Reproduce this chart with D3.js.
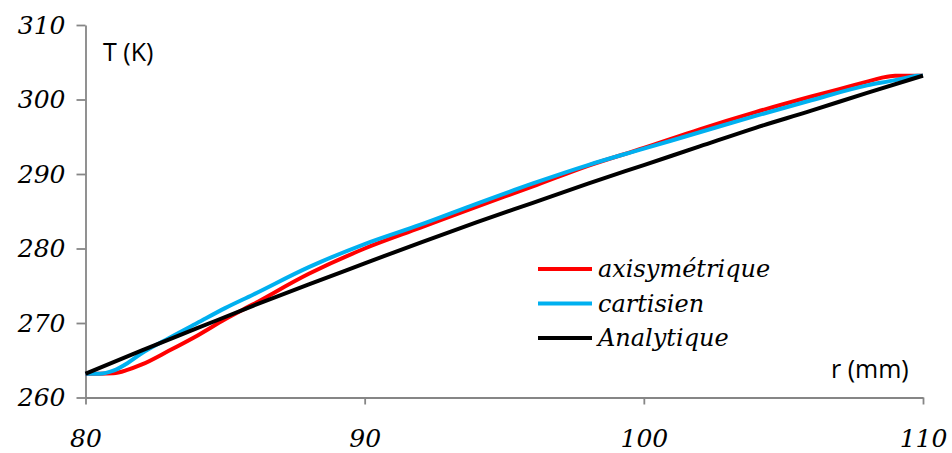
<!DOCTYPE html>
<html>
<head>
<meta charset="utf-8">
<script src="https://cdn.jsdelivr.net/npm/d3@7"></script>
<style>
  html, body { margin: 0; padding: 0; background: #fff; }
  svg { display: block; }
</style>
</head>
<body>
<svg id="chart" width="952" height="453"></svg>
<script>
// ---- data ----
const rAxi = [80, 80.5, 81, 81.5, 82, 83, 84, 85, 86, 88, 90, 92, 94, 96, 98, 100, 102, 104, 106, 107, 108, 108.5, 109, 110];
const tAxi = [263.2, 263.2, 263.25, 263.7, 264.4, 266.3, 268.3, 270.5, 272.5, 276.6, 280.0, 282.8, 285.6, 288.3, 291.1, 293.5, 296.0, 298.3, 300.4, 301.4, 302.4, 302.9, 303.2, 303.2];

const rCart = [80, 80.5, 81, 81.5, 82, 83, 84, 85, 86, 88, 90, 92, 94, 96, 98, 100, 102, 104, 106, 108, 109, 109.5, 109.8, 110];
const tCart = [263.2, 263.2, 263.6, 264.6, 265.9, 268.0, 270.0, 272.0, 273.8, 277.5, 280.6, 283.2, 286.0, 288.7, 291.2, 293.4, 295.6, 297.8, 299.9, 301.9, 302.6, 303.0, 303.2, 303.2];

const rAna = [80, 82, 84, 86, 88, 90, 92, 94, 96, 98, 100, 102, 104, 106, 108, 110];
const tAna = [263.2, 266.3, 269.3, 272.3, 275.2, 278.0, 280.8, 283.5, 286.1, 288.7, 291.2, 293.7, 296.2, 298.5, 300.9, 303.2];

const seriesNames = ["axisymétrique", "cartisien", "Analytique"];
const seriesColors = ["#FF0000", "#00B0F0", "#000000"];

const xTicks = [80, 90, 100, 110];
const yTicks = [260, 270, 280, 290, 300, 310];
const xTitle = "r (mm)";
const yTitle = "T (K)";

// ---- chart ----
const svg = d3.select("#chart");
const x = d3.scaleLinear().domain([80, 110]).range([85.5, 923]);
const y = d3.scaleLinear().domain([260, 310]).range([397.5, 25]);

const axisColor = "#868686";
const tickFont = "'DejaVu Serif', serif";

const yAxis = svg.append("g")
  .attr("transform", `translate(${x(80)},0)`)
  .call(d3.axisLeft(y).tickValues(yTicks).tickSize(9).tickSizeOuter(0).tickPadding(11).tickFormat(d3.format("d")));
const xAxis = svg.append("g")
  .attr("transform", `translate(0,${y(260)})`)
  .call(d3.axisBottom(x).tickValues(xTicks).tickSize(7).tickSizeOuter(0).tickPadding(25).tickFormat(d3.format("d")));

[yAxis, xAxis].forEach(g => {
  g.select(".domain").attr("stroke", axisColor).attr("stroke-width", 1.8);
  g.selectAll(".tick line").attr("stroke", axisColor).attr("stroke-width", 1.8);
  g.selectAll(".tick text")
    .attr("fill", "#000")
    .style("font-family", tickFont)
    .style("font-style", "italic")
    .style("font-size", "25px");
});

// series lines
const line = d3.line().x(d => x(d[0])).y(d => y(d[1])).curve(d3.curveMonotoneX);
const series = [
  d3.zip(rAxi, tAxi),
  d3.zip(rCart, tCart),
  d3.zip(rAna, tAna)
];
series.forEach((pts, i) => {
  svg.append("path")
    .datum(pts)
    .attr("fill", "none")
    .attr("stroke", seriesColors[i])
    .attr("stroke-width", 4)
    .attr("stroke-linejoin", "round")
    .attr("stroke-linecap", "butt")
    .attr("d", line);
});

// axis titles
svg.append("text")
  .attr("x", 103).attr("y", 61)
  .style("font-family", "'Open Sans', sans-serif")
  .style("font-size", "25px")
  .attr("fill", "#000")
  .text(yTitle);
svg.append("text")
  .attr("x", 831).attr("y", 378)
  .style("font-family", "'Open Sans', sans-serif")
  .style("font-size", "25px")
  .attr("fill", "#000")
  .text(xTitle);

// legend
const legend = svg.append("g");
const legY = [269, 303.5, 338];
seriesNames.forEach((name, i) => {
  legend.append("line")
    .attr("x1", 538).attr("x2", 592)
    .attr("y1", legY[i]).attr("y2", legY[i])
    .attr("stroke", seriesColors[i])
    .attr("stroke-width", 4);
  legend.append("text")
    .attr("x", 598).attr("y", legY[i] + 8)
    .style("font-family", tickFont)
    .style("font-style", "italic")
    .style("font-size", "24px")
    .attr("fill", "#000")
    .text(name);
});
</script>
</body>
</html>
